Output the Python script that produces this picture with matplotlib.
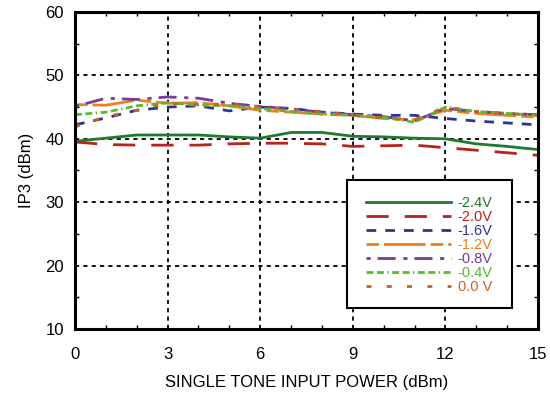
import matplotlib
matplotlib.use("Agg")
import matplotlib.pyplot as plt
from matplotlib.patches import Rectangle
from matplotlib.ticker import MultipleLocator

plt.rcParams['font.family'] = ['Liberation Sans', 'DejaVu Sans']
plt.rcParams['lines.scale_dashes'] = False

x = [0, 1, 2, 3, 4, 5, 6, 7, 8, 9, 10, 11, 12, 13, 14, 15]
v_m24 = [39.6, 40.1, 40.6, 40.6, 40.6, 40.3, 40.1, 41.0, 41.0, 40.4, 40.3, 40.1, 40.0, 39.2, 38.8, 38.3]
v_m20 = [39.5, 39.1, 39.0, 39.0, 39.0, 39.2, 39.3, 39.3, 39.2, 38.8, 38.9, 39.0, 38.6, 38.2, 37.8, 37.4]
v_m16 = [42.2, 43.3, 44.5, 45.0, 45.2, 44.4, 45.0, 44.8, 44.2, 43.9, 43.7, 43.7, 43.2, 42.8, 42.5, 42.2]
v_m12 = [45.4, 45.3, 46.1, 45.6, 45.7, 45.2, 44.5, 44.2, 43.9, 43.7, 43.2, 43.0, 44.5, 44.0, 43.7, 43.4]
v_m08 = [45.1, 46.4, 46.2, 46.6, 46.4, 45.6, 45.1, 44.7, 44.2, 43.8, 43.5, 42.8, 44.8, 44.3, 44.0, 43.8]
v_m04 = [43.8, 44.2, 45.2, 45.7, 45.3, 45.2, 44.8, 44.3, 43.9, 43.7, 43.4, 42.6, 45.0, 44.3, 44.0, 43.7]
v_00 = [41.9, 43.5, 44.5, 45.6, 45.4, 45.5, 45.1, 44.6, 44.3, 43.7, 43.3, 43.0, 45.0, 44.3, 44.0, 43.7]

labels = ['-2.4V', '-2.0V', '-1.6V', '-1.2V', '-0.8V', '-0.4V', '0.0 V']
colors = ['#1e7a2e', '#b8231c', '#2e3590', '#f07f1e', '#7a3a96', '#5cb832', '#c0652a']
# dash patterns in points
styles = ['-', (0, (16, 11.5)), (0, (7, 6.5)), (0, (9, 3.6, 30, 3.6)), (0, (3, 5, 13, 5.5)),
          (0, (5, 2.5, 5, 2.5, 1, 2.5)), (0, (3.6, 11))]
series = [v_m24, v_m20, v_m16, v_m12, v_m08, v_m04, v_00]

fig = plt.figure(figsize=(5.5, 3.94), dpi=100)
ax = fig.add_axes([75/550, 1-329/394, (538-75)/550, (329-12)/394])

for ys, lab, c, ls in zip(series, labels, colors, styles):
    ax.plot(x, ys, color=c, linestyle=ls, linewidth=2.0, label=lab)

ax.set_xlim(0, 15)
ax.set_ylim(10, 60)
ax.xaxis.set_major_locator(MultipleLocator(3))
ax.xaxis.set_minor_locator(MultipleLocator(1))
ax.yaxis.set_major_locator(MultipleLocator(10))
ax.yaxis.set_minor_locator(MultipleLocator(5))
ax.tick_params(which='both', direction='in', top=True, right=True, labelsize=12)
ax.tick_params(axis='x', which='major', pad=13)
ax.tick_params(axis='y', which='major', pad=8)
ax.tick_params(which='major', length=0)
ax.tick_params(which='minor', length=3, width=1)
ax.grid(True, which='major', color='black', linestyle=(0, (3, 3)), linewidth=1.3)
for s in ax.spines.values():
    s.set_linewidth(2.2)

ax.set_xlabel('SINGLE TONE INPUT POWER (dBm)', fontsize=12, labelpad=9)
ax.set_ylabel('IP3 (dBm)', fontsize=12, labelpad=8)

# legend frame drawn separately
ax.add_patch(Rectangle((0.5875, 0.0662), 0.9438 - 0.5875, 0.470 - 0.0662,
                       transform=ax.transAxes, facecolor='white', edgecolor='black',
                       linewidth=1.5, zorder=4))
leg = ax.legend(loc='upper left', bbox_to_anchor=(0.6285, 0.4205), borderaxespad=0,
                fontsize=10.5, frameon=False, handlelength=5.8,
                labelspacing=0.0, borderpad=0, handletextpad=0.5)
leg.set_zorder(5)
for t, c in zip(leg.get_texts(), colors):
    t.set_color(c)

fig.savefig('out.png', dpi=100)
